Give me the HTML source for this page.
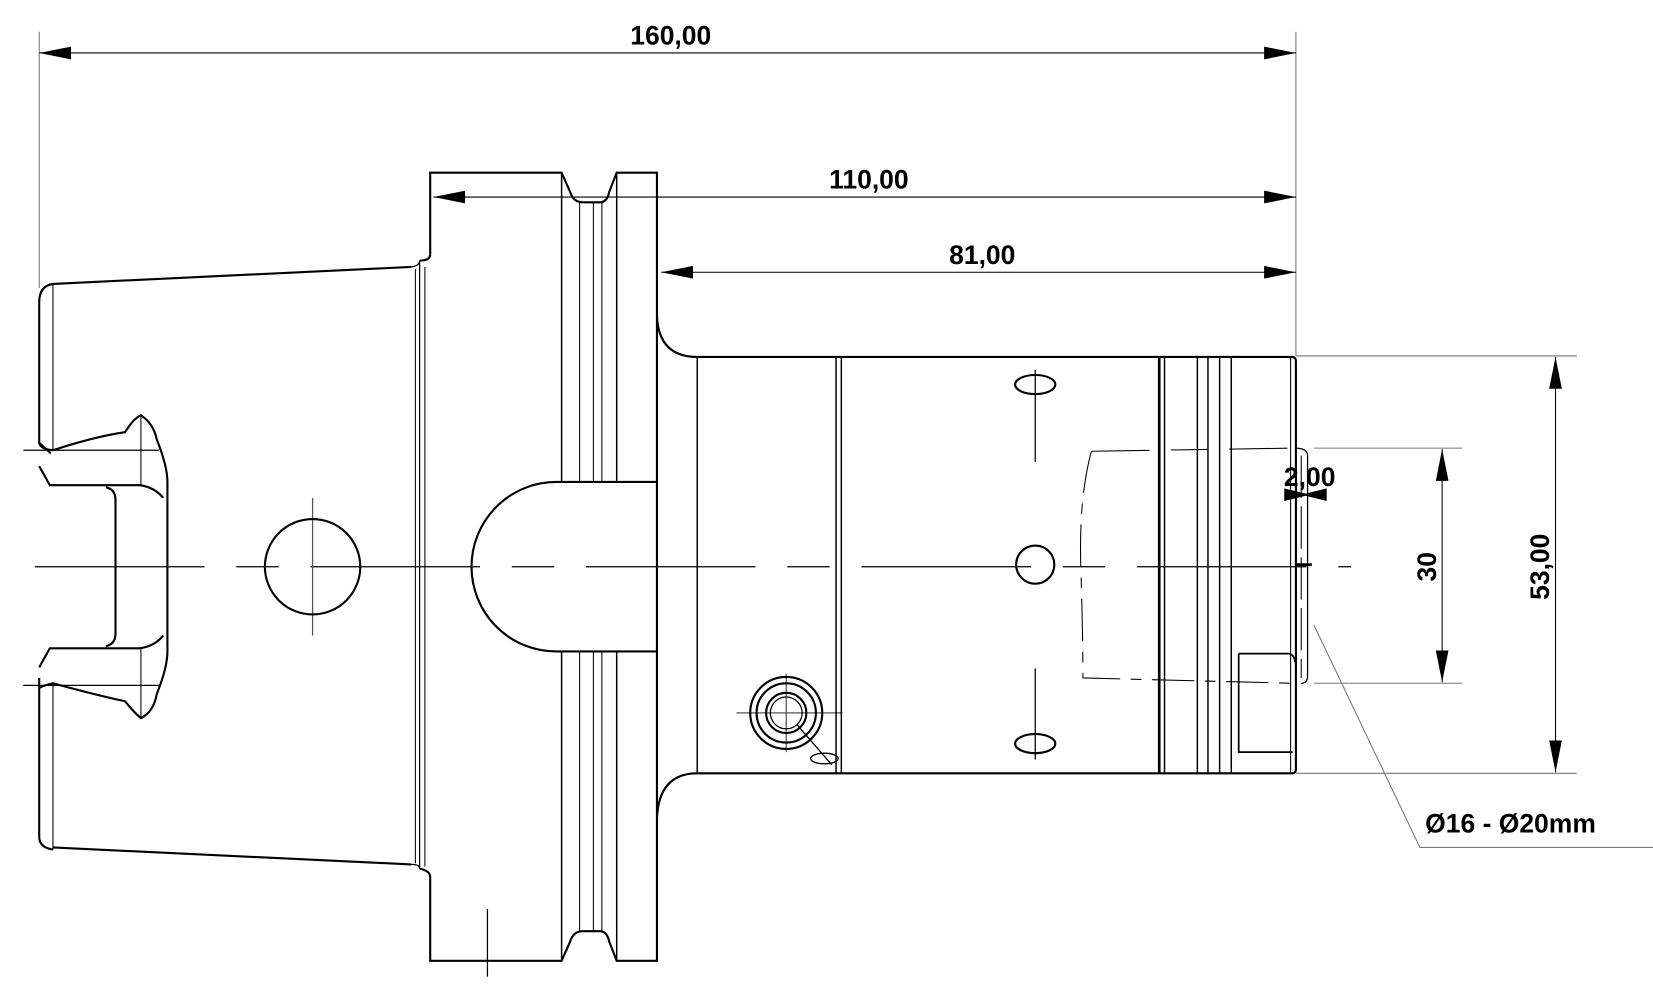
<!DOCTYPE html>
<html><head><meta charset="utf-8"><style>html,body{margin:0;padding:0;background:#fff}svg{display:block}text{font-family:"Liberation Sans",sans-serif;font-weight:bold;fill:#000}</style></head>
<body>
<svg width="1653" height="1000" viewBox="0 0 1560 944" preserveAspectRatio="none" xmlns="http://www.w3.org/2000/svg">
<defs>
<marker id="a" viewBox="0 0 30 12" refX="30" refY="6" markerWidth="30" markerHeight="12" markerUnits="userSpaceOnUse" orient="auto"><path d="M0,0 L30,6 L0,12z" fill="#000"/></marker>
<marker id="b" viewBox="0 0 30 12" refX="0" refY="6" markerWidth="30" markerHeight="12" markerUnits="userSpaceOnUse" orient="auto"><path d="M30,0 L0,6 L30,12z" fill="#000"/></marker>
</defs>
<g stroke="#777" stroke-width="1" fill="none">
<line x1="37" y1="30" x2="37" y2="272"/>
<line x1="1223" y1="30" x2="1223" y2="336"/>
<line x1="1223" y1="336" x2="1488" y2="336"/>
<line x1="1223" y1="730" x2="1488" y2="730"/>
<line x1="1240" y1="423" x2="1380" y2="423"/>
<line x1="1240" y1="645" x2="1380" y2="645"/>
<polyline points="1240,590 1340,800 1560,800"/>
</g>
<g stroke="#000" stroke-width="1" fill="none">
<line x1="37" y1="50" x2="1223" y2="50" marker-start="url(#b)" marker-end="url(#a)"/>
<line x1="409" y1="186" x2="1223" y2="186" marker-start="url(#b)" marker-end="url(#a)"/>
<line x1="624" y1="257" x2="1223" y2="257" marker-start="url(#b)" marker-end="url(#a)"/>
<line x1="1468" y1="337" x2="1468" y2="729" marker-start="url(#b)" marker-end="url(#a)"/>
<line x1="1361" y1="424" x2="1361" y2="644" marker-start="url(#b)" marker-end="url(#a)"/>
</g>
<path d="M1212,461 L1232,466 L1252,461 L1252,473 L1232,468 L1212,473z" fill="#000"/>
<text x="633" y="42" font-size="25" text-anchor="middle">160,00</text>
<text x="820" y="178" font-size="25" text-anchor="middle">110,00</text>
<text x="927" y="249" font-size="25" text-anchor="middle">81,00</text>
<text x="1236" y="459" font-size="25" text-anchor="middle">2,00</text>
<text x="1345" y="786" font-size="25">Ø16 - Ø20mm</text>
<text transform="translate(1355,535) rotate(-90)" font-size="25" text-anchor="middle">30</text>
<text transform="translate(1462,535) rotate(-90)" font-size="25" text-anchor="middle">53,00</text>
<g stroke="#000" stroke-width="1.2" fill="none">
<line x1="33" y1="535" x2="1275" y2="535" stroke-dasharray="160,30,40,30"/>
<line x1="22" y1="425" x2="150" y2="425"/>
<line x1="22" y1="647" x2="150" y2="647"/>
<line x1="295" y1="470" x2="295" y2="600" stroke="#555"/>
<line x1="977" y1="349" x2="977" y2="436"/>
<line x1="977" y1="631" x2="977" y2="717"/>
<line x1="742" y1="636" x2="742" y2="710" stroke="#555"/>
<line x1="695" y1="673" x2="795" y2="673" stroke="#555"/>
<line x1="460" y1="858" x2="460" y2="922"/>
</g>
<g stroke="#000" stroke-width="2" fill="none">
<path d="M50,268 L388,252 M50,800 L388,816"/>
<path d="M50,268 Q37,270 37,285 L37,418 L48,428 M37,640 L37,790 Q37,800 50,802"/>
<line x1="50" y1="268" x2="50" y2="425" stroke-width="1"/>
<line x1="50" y1="645" x2="50" y2="802" stroke-width="1"/>
<path d="M37,418 Q38,424 50,425 Q90,412 118,408 Q126,395 133,392 Q145,400 148,415 Q158,440 158,455 L158,615 Q158,630 148,655 Q145,672 133,678 Q126,672 118,662 Q90,656 50,645 Q38,648 37,650"/>
<path d="M37,440 L47,458 L132,458 Q146,460 154,470 M37,630 L47,612 L132,612 Q146,610 154,600"/>
<path d="M100,460 Q109,462 109,472 L109,598 Q109,608 100,610"/>
<line x1="133" y1="392" x2="133" y2="458" stroke-width="1"/>
<line x1="133" y1="612" x2="133" y2="678" stroke-width="1"/>
<circle cx="295" cy="535" r="45"/>
<path d="M388,252 Q396,251 396,246 L396,820 Q396,816 388,816" stroke-width="1.2"/>
<line x1="392" y1="254" x2="392" y2="815" stroke-width="1"/>
<line x1="401" y1="252" x2="401" y2="818" stroke-width="1"/>
<path d="M396,246 Q406,246 406,240"/>
<path d="M406,240 L406,163 L530,163 L538,181 Q541,191 550,191 L566,191 Q573,191 575,181 L582,163 L620,163 L620,907 L582,907 L575,889 Q573,879 566,879 L550,879 Q541,879 538,889 L530,907 L406,907 L406,828 Q406,822 396,820"/>
<line x1="530" y1="163" x2="530" y2="455" stroke-width="1.4"/>
<line x1="530" y1="615" x2="530" y2="907" stroke-width="1.4"/>
<line x1="582" y1="163" x2="582" y2="455" stroke-width="1.4"/>
<line x1="582" y1="615" x2="582" y2="907" stroke-width="1.4"/>
<g stroke-width="1"><line x1="547" y1="191" x2="547" y2="455"/><line x1="560" y1="191" x2="560" y2="455"/><line x1="568" y1="191" x2="568" y2="455"/>
<line x1="547" y1="615" x2="547" y2="879"/><line x1="560" y1="615" x2="560" y2="879"/><line x1="568" y1="615" x2="568" y2="879"/></g>
<path d="M620,455 L525,455 A80,80 0 0 0 525,615 L620,615"/>
<path d="M620,299 Q622,337 658,337 L1219,337 Q1223,337 1223,341 L1223,726 Q1223,730 1219,730 L658,730 Q622,730 620,772"/>
<line x1="658" y1="337" x2="658" y2="730" stroke-width="1.4"/>
<line x1="789" y1="337" x2="789" y2="730" stroke-width="1.4"/>
<line x1="794" y1="337" x2="794" y2="730" stroke-width="1.4"/>
<line x1="1094" y1="337" x2="1094" y2="730" stroke-width="2.5"/>
<line x1="1099" y1="337" x2="1099" y2="730" stroke-width="1.4"/>
<line x1="1130" y1="337" x2="1130" y2="730" stroke-width="1.4"/>
<line x1="1140" y1="337" x2="1140" y2="730" stroke-width="1.4"/>
<line x1="1151" y1="337" x2="1151" y2="730" stroke-width="1.4"/>
<line x1="1162" y1="337" x2="1162" y2="730" stroke-width="1.4"/>
<line x1="1218" y1="337" x2="1218" y2="730" stroke-width="1"/>
<ellipse cx="977" cy="363" rx="19" ry="9"/>
<circle cx="977" cy="533" r="18"/>
<ellipse cx="977" cy="702" rx="19" ry="9"/>
<circle cx="742" cy="673" r="34"/>
<circle cx="742" cy="673" r="28"/>
<circle cx="742" cy="673" r="19"/>
<circle cx="742" cy="673" r="15" stroke-width="1.2"/>
<line x1="752" y1="684" x2="785" y2="722" stroke-width="1.2"/>
<ellipse cx="778" cy="716" rx="13" ry="5" stroke-width="1.2"/>
<path d="M1169,617 L1217,617 Q1222,619 1222,625 M1169,617 L1169,710 L1220,710" stroke-width="1.6"/>
<path d="M1222,423 Q1234,423 1234,430 L1234,638 Q1234,645 1228,645" stroke-width="1.2"/>
</g>
<g stroke="#000" stroke-width="1" fill="none">
<path d="M1030,426 L1222,423" stroke-dasharray="55,20,35,20"/>
<path d="M1030,426 Q1018,470 1020,535 Q1022,600 1022,640 L1220,645" stroke-dasharray="40,10,10,10"/>
<line x1="1228" y1="430" x2="1228" y2="640" stroke-dasharray="40,8"/>
<line x1="1222" y1="533" x2="1238" y2="533" stroke-width="2.5"/>
</g>
</svg>
</body></html>
